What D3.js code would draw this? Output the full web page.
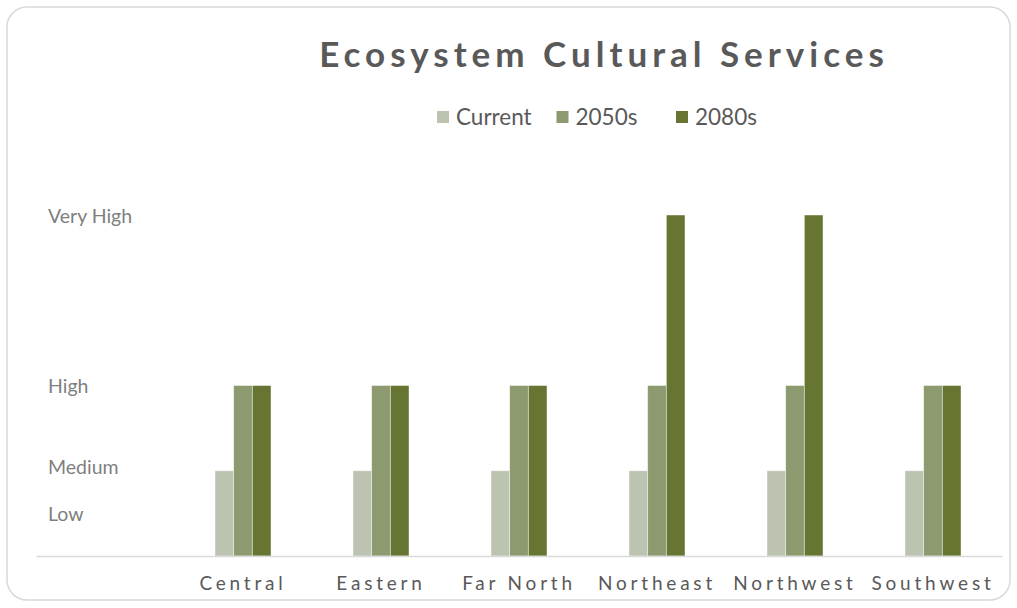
<!DOCTYPE html>
<html>
<head>
<meta charset="utf-8">
<script src="https://cdn.jsdelivr.net/npm/d3@7"></script>
<style>
  body { margin: 0; background: #fff; }
  svg { display: block; font-family: Lato, "Open Sans", sans-serif; }
</style>
</head>
<body>
<svg id="chart" width="1017" height="608"></svg>
<script>
// Regions and the three time horizons
const categories = ["Central", "Eastern", "Far North", "Northeast", "Northwest", "Southwest"];
const seriesNames = ["Current", "2050s", "2080s"];
const currentValues = [1, 1, 1, 1, 1, 1];
const values2050s = [2, 2, 2, 2, 2, 2];
const values2080s = [2, 2, 2, 4, 4, 2];
const seriesValues = [currentValues, values2050s, values2080s];

// Qualitative level labels placed along the value axis
const levelValues = [4, 2, 1.05, 0.5];
const levelLabels = ["Very High", "High", "Medium", "Low"];

const colors = ["#bcc3b1", "#8d9a6f", "#667632"];

const plot = { left: 36, right: 1002, top: 215, bottom: 556 };

const svg = d3.select("#chart");

// frame
svg.append("rect")
  .attr("x", 7).attr("y", 7)
  .attr("width", 1003).attr("height", 593)
  .attr("rx", 20).attr("ry", 20)
  .attr("fill", "#fff")
  .attr("stroke", "#d9d9d9")
  .attr("stroke-width", 1.5);

// category slots: the first slot is an empty row in the source table
const x0 = d3.scaleBand()
  .domain(["", ...categories])
  .range([plot.left, plot.right])
  .paddingInner(0.594)
  .paddingOuter(0.297);

const x1 = d3.scaleBand()
  .domain(seriesNames)
  .range([0, x0.bandwidth()]);

const y = d3.scaleLinear()
  .domain([0, 4])
  .range([plot.bottom, plot.top]);

const color = d3.scaleOrdinal().domain(seriesNames).range(colors);

// bars
const groups = svg.append("g")
  .selectAll("g")
  .data(categories)
  .join("g")
  .attr("transform", d => `translate(${x0(d)},0)`);

groups.selectAll("rect")
  .data((d, i) => seriesNames.map((s, k) => ({ series: s, value: seriesValues[k][i] })))
  .join("rect")
  .attr("x", d => x1(d.series))
  .attr("y", d => y(d.value))
  .attr("width", x1.bandwidth())
  .attr("height", d => y(0) - y(d.value))
  .attr("fill", d => color(d.series))
  .attr("stroke", "rgba(255,255,255,0.55)")
  .attr("stroke-width", 0.8);

// baseline axis with category labels
const xAxis = d3.axisBottom(x0).tickSize(0).tickPadding(0);
const gx = svg.append("g")
  .attr("transform", `translate(0,${plot.bottom})`)
  .call(xAxis);
gx.select(".domain")
  .attr("stroke", "#d9d9d9")
  .attr("stroke-width", 1.6);
gx.selectAll(".tick text")
  .attr("y", 34)
  .attr("dy", 0)
  .attr("fill", "#595959")
  .style("font-family", "Lato, 'Open Sans', sans-serif")
  .style("font-size", "19px")
  .style("letter-spacing", "3.8px");

// level labels on the value axis
const yAxis = d3.axisLeft(y)
  .tickValues(levelValues)
  .tickFormat((d, i) => levelLabels[i])
  .tickSize(0);
const gy = svg.append("g")
  .attr("transform", "translate(48,0)")
  .call(yAxis);
gy.select(".domain").remove();
gy.selectAll(".tick text")
  .attr("text-anchor", "start")
  .attr("x", 0)
  .attr("dy", "0.36em")
  .attr("fill", "#7f7f7f")
  .style("font-family", "Lato, 'Open Sans', sans-serif")
  .style("font-size", "19.5px");

// title
svg.append("text")
  .attr("x", 604)
  .attr("y", 67)
  .attr("text-anchor", "middle")
  .attr("fill", "#595959")
  .style("font-size", "35px")
  .style("font-weight", "bold")
  .style("letter-spacing", "5px")
  .text("Ecosystem Cultural Services");

// legend
const legendX = d3.scalePoint()
  .domain(seriesNames)
  .range([437, 676]);
const legend = svg.append("g")
  .selectAll("g")
  .data(seriesNames)
  .join("g")
  .attr("transform", d => `translate(${legendX(d)},111)`);
legend.append("rect")
  .attr("width", 12).attr("height", 12)
  .attr("fill", d => color(d));
legend.append("text")
  .attr("x", 19)
  .attr("y", 14)
  .attr("fill", "#595959")
  .style("font-size", "22.5px")
  .text(d => d);
</script>
</body>
</html>
